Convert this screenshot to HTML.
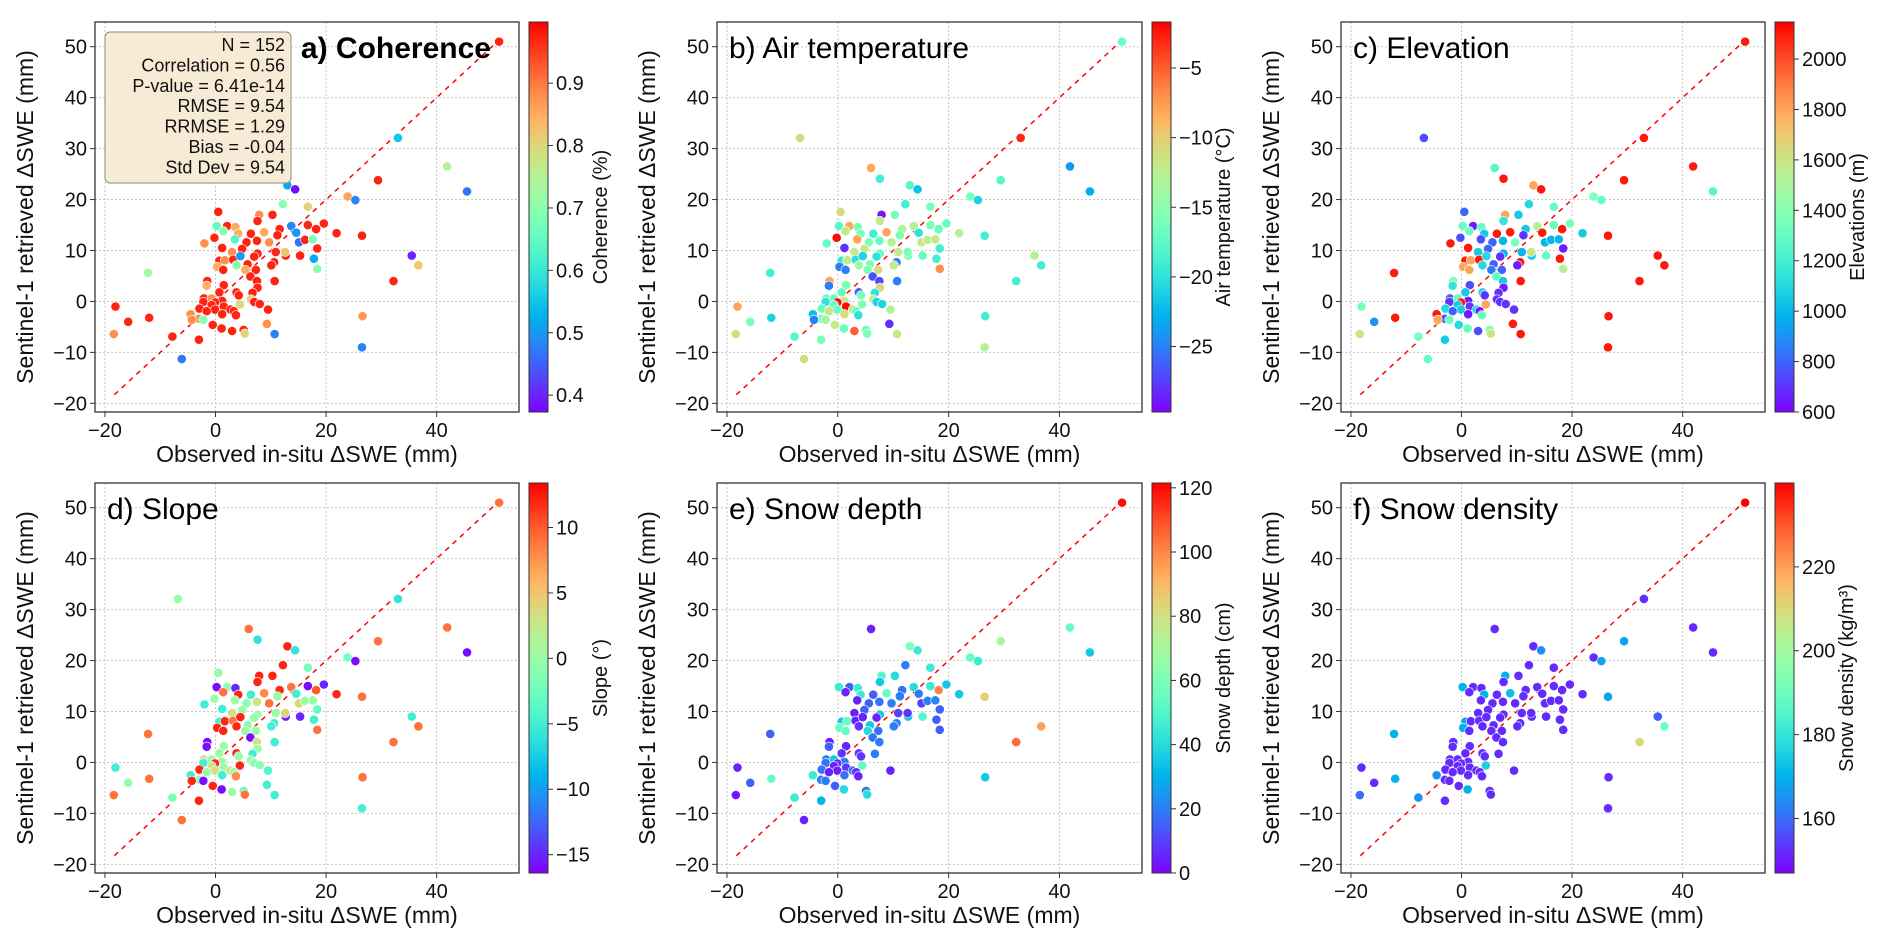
<!DOCTYPE html>
<html><head><meta charset="utf-8">
<style>
html,body{margin:0;padding:0;background:#fff;}
svg{display:block;font-family:"Liberation Sans","Noto Sans CJK SC",sans-serif;}
</style></head>
<body>
<svg id="fig" width="1892" height="946" viewBox="0 0 1892 946" xmlns="http://www.w3.org/2000/svg"></svg>
<script>
const xObs=[51.3,-6.8,33.0,6.0,41.9,7.6,29.4,13.0,14.4,45.5,23.9,25.3,12.2,16.7,0.5,7.9,10.3,7.6,0.2,2.1,3.6,13.7,16.7,19.6,1.4,4.1,6.4,8.8,11.6,14.6,18.2,21.9,-0.2,3.5,5.6,7.5,9.7,11.2,15.1,16.2,17.6,26.5,-2.0,1.2,3.0,4.8,7.6,10.9,12.7,15.3,18.4,12.6,0.7,1.7,3.2,4.5,7.0,10.6,17.8,35.5,36.7,0.3,1.4,3.8,5.8,10.1,5.4,7.3,18.4,6.3,7.5,10.7,32.2,-1.5,1.5,-1.6,7.6,3.8,0.7,6.7,4.2,-2.1,-0.7,6.4,-2.2,1.2,-0.1,7.0,8.0,-0.7,4.4,1.5,-2.9,-0.1,9.5,-1.6,2.7,3.3,1.2,3.7,-4.5,-3.0,-4.3,-2.2,26.6,-12.0,-15.8,-18.1,9.3,-0.5,1.1,5.1,5.3,3.0,10.7,-18.4,-7.8,-3.0,26.5,-6.1,-12.2];
const ySat=[51.0,32.1,32.1,26.2,26.5,24.1,23.8,22.8,22.0,21.6,20.6,19.9,19.1,18.6,17.6,17.0,17.0,15.8,14.8,14.8,14.6,14.8,15.0,15.3,13.8,13.3,13.3,13.6,14.2,13.5,14.2,13.4,12.5,12.2,11.6,11.9,11.6,13.0,11.6,12.1,12.2,12.9,11.4,10.5,9.7,10.3,9.4,9.7,9.0,9.0,10.4,9.7,8.0,8.1,8.2,8.9,8.8,7.7,8.4,9.0,7.1,6.8,6.2,7.1,7.3,7.1,6.2,6.2,6.4,4.9,4.0,4.0,4.0,4.0,3.2,3.1,2.7,1.8,1.8,1.7,1.2,0.6,0.6,0.4,-0.1,0.1,-0.2,-0.1,-0.5,-0.7,-0.6,-1.0,-1.4,-1.6,-1.6,-1.9,-1.6,-1.9,-2.5,-2.7,-2.5,-3.4,-3.6,-3.6,-2.9,-3.2,-4.0,-1.0,-4.4,-4.6,-5.3,-5.6,-6.3,-5.8,-6.4,-6.4,-6.9,-7.5,-9.0,-11.3,5.6];
const coherence=[.97,.72,.55,.47,.75,.72,.97,.52,.38,.47,.86,.48,.7,.8,.97,.88,.97,.97,.65,.97,.85,.48,.97,.97,.7,.85,.97,.85,.97,.5,.97,.97,.97,.63,.97,.97,.88,.97,.46,.97,.68,.97,.88,.97,.88,.97,.97,.97,.97,.97,.97,.82,.97,.88,.97,.5,.97,.97,.52,.4,.82,.85,.97,.7,.97,.97,.85,.97,.7,.97,.97,.97,.97,.97,.97,.85,.97,.97,.97,.97,.97,.97,.88,.8,.97,.97,.97,.97,.97,.97,.8,.97,.97,.97,.97,.97,.97,.97,.97,.97,.88,.88,.88,.7,.87,.97,.97,.97,.88,.97,.97,.97,.8,.97,.48,.88,.97,.97,.48,.47,.72];
const airTemp=[-17,-11,-3,-8,-24,-19,-18,-18,-22,-23,-16,-21,-19,-16,-11,-29,-16,-12,-18,-8,-16,-13,-16,-17,-12,-16,-19,-8,-13,-20,-17,-13,-2,-8,-16,-17,-13,-16,-12,-12,-12,-19,-17,-28,-12,-12,-17,-12,-16,-17,-19,-16,-20,-12,-20,-21,-20,-25,-19,-13,-19,-25,-25,-14,-16,-12,-16,-11,-7,-27,-27,-25,-19,-8,-16,-25,-11,-26,-17,-20,-16,-17,-17,-12,-20,-12,-2,-21,-21,-17,-16,-2,-17,-17,-13,-12,-12,-17,-11,-20,-22,-16,-25,-14,-19,-21,-16,-8,-28,-12,-17,-17,-16,-5,-12,-11,-18,-16,-13,-11,-19];
const elevation=[2100,750,2100,1250,2100,2100,2100,1800,2100,1250,1350,1300,1100,1300,800,1800,1050,1150,1300,650,1300,1550,1300,1350,1300,1050,2100,2100,1050,2100,2100,1050,750,750,800,1000,1350,700,1000,1000,1000,2100,2100,2100,1050,800,1000,1000,1050,1300,650,1600,2100,1800,2100,1100,700,2100,2100,2100,2100,1800,1800,1100,800,650,850,800,1550,1300,1050,2100,2100,1350,750,1150,650,1100,1050,700,700,800,1300,700,700,650,2100,700,700,1050,1800,700,1100,1050,700,800,1100,650,650,1300,2100,750,1800,1300,2100,2100,900,1350,2100,1100,1300,1350,1600,750,2100,1600,1350,1050,2100,1300,2100];
const slope=[9,0,-6,9,9,-6,9,12,-6,-16,-2,-16,12,-2,0,12,12,12,-16,-1,-15,9,-16,-15,9,12,-5,8,12,-5,10,12,0,0,-1,3,9,0,4,0,0,9,-5,-5,3,0,0,0,-15,-15,-3,4,-5,12,9,12,0,-5,-5,-5,9,12,12,12,-1,-5,0,0,9,-16,3,-5,9,-16,0,-16,0,12,0,-5,0,3,0,0,-5,0,12,-1,-1,3,12,0,12,3,-4,0,3,0,-5,8,-5,-1,12,-16,9,9,0,-5,-5,12,-16,-3,9,0,-5,9,-2,12,-5,9,9];
const snowDepth=[120,null,null,5,55,null,70,60,45,35,55,45,20,45,null,50,40,35,45,15,45,40,45,35,5,45,15,55,18,20,100,35,null,5,15,18,20,20,10,20,22,85,null,null,5,15,35,10,35,50,15,8,35,55,5,5,5,20,15,null,95,55,55,8,35,20,40,18,15,18,20,null,105,5,5,15,null,8,8,20,8,20,35,null,18,20,8,null,null,5,55,8,18,5,5,5,18,8,18,5,45,20,null,20,35,55,15,5,null,15,40,20,40,null,null,3,45,30,null,5,15];
const snowDensity=[240,null,152,152,152,null,168,152,165,152,152,168,152,152,null,170,152,152,170,152,152,152,152,152,152,170,152,172,152,152,152,152,null,152,152,152,152,152,152,152,152,168,null,null,152,152,152,152,152,152,152,152,168,152,152,152,152,152,152,158,190,170,152,152,152,152,152,152,152,152,152,null,210,152,152,152,null,152,152,152,152,152,152,null,152,152,152,null,null,152,175,152,152,152,152,152,152,152,152,152,165,152,null,152,152,170,152,152,null,152,170,152,152,null,null,160,165,152,152,null,170];
const xTicks=[-20,0,20,40];
const yTicks=[-20,-10,0,10,20,30,40,50];
const panelTitles=["a) Coherence","b) Air temperature","c) Elevation","d) Slope","e) Snow depth","f) Snow density"];
const cbLabels=["Coherence (%)","Air temperature (°C)","Elevations (m)","Slope (°)","Snow depth (cm)","Snow density (kg/m³)"];
const cbRanges=[[0.373,0.998],[-29.7,-1.7],[600,2147],[-16.4,13.4],[0,121.5],[147,240]];
const cbTicks=[[0.4,0.5,0.6,0.7,0.8,0.9],[-25,-20,-15,-10,-5],[600,800,1000,1200,1400,1600,1800,2000],[-15,-10,-5,0,5,10],[0,20,40,60,80,100,120],[160,180,200,220]];
const statsLines=["N = 152","Correlation = 0.56","P-value = 6.41e-14","RMSE = 9.54","RRMSE = 1.29","Bias = -0.04","Std Dev = 9.54"];
const colorVals=[coherence,airTemp,elevation,slope,snowDepth,snowDensity];

const NS="http://www.w3.org/2000/svg";
const svg=document.getElementById('fig');
function mk(tag,attrs,parent){const e=document.createElementNS(NS,tag);for(const k in attrs)e.setAttribute(k,attrs[k]);(parent||svg).appendChild(e);return e;}
function rainbow(t){t=Math.max(0,Math.min(1,t));const r=Math.min(1,Math.abs(2*t-0.5));const g=Math.sin(Math.PI*t);const b=Math.cos(Math.PI*t/2);return `rgb(${Math.round(r*255)},${Math.round(g*255)},${Math.round(b*255)})`;}
const defs=mk('defs',{});
const lg=mk('linearGradient',{id:'rb',x1:0,y1:1,x2:0,y2:0},defs);
for(let i=0;i<=20;i++){mk('stop',{offset:(i/20),'stop-color':rainbow(i/20)},lg);}

const colsX=[[95,519],[717,1142],[1341,1765]];
const rowsY=[[22,412],[483,873]];
const XMIN=-21.8,XMAX=54.9,YMIN=-21.7,YMAX=54.85;

for(let p=0;p<6;p++){
  const [L,R]=colsX[p%3],[T,B]=rowsY[Math.floor(p/3)];
  const g=mk('g',{});
  
  
  const sx=v=>L+(v-XMIN)/(XMAX-XMIN)*(R-L);
  const sy=v=>B-(v-YMIN)/(YMAX-YMIN)*(B-T);
  for(const t of xTicks){const l=mk('line',{x1:sx(t),x2:sx(t),y1:T,y2:B,stroke:'#c8c8c8','stroke-width':1,'stroke-dasharray':'2,2'},g);}
  for(const t of yTicks){const l=mk('line',{x1:L,x2:R,y1:sy(t),y2:sy(t),stroke:'#c8c8c8','stroke-width':1,'stroke-dasharray':'2,2'},g);}
  const d=mk('line',{x1:sx(-18.3),y1:sy(-18.3),x2:sx(51.3),y2:sy(51.3),stroke:'#ff0000','stroke-width':1.5,'stroke-dasharray':'5,5'},g);
  
  
  const vals=colorVals[p],[cmin,cmax]=cbRanges[p];
  for(let i=0;i<xObs.length;i++){
    if(vals[i]===null||vals[i]===undefined)continue;
    const c=mk('circle',{cx:sx(xObs[i]),cy:sy(ySat[i]),r:4.6,fill:rainbow((vals[i]-cmin)/(cmax-cmin)),stroke:'#fff','stroke-width':0.6},g);
    
    
  }
  const fr=mk('rect',{x:L,y:T,width:R-L,height:B-T,fill:'none',stroke:'#333','stroke-width':1.3},g);
  
  
  for(const t of xTicks){
    mk('line',{x1:sx(t),x2:sx(t),y1:B,y2:B+5,stroke:'#333','stroke-width':1},g);
    const tx=mk('text',{x:sx(t),y:B+25,'font-size':20,'text-anchor':'middle',fill:'#111'},g);tx.textContent=(t<0?'\u2212'+(-t):t);
    
    
  }
  for(const t of yTicks){
    mk('line',{x1:L-5,x2:L,y1:sy(t),y2:sy(t),stroke:'#333','stroke-width':1},g);
    const tx=mk('text',{x:L-8,y:sy(t)+7,'font-size':20,'text-anchor':'end',fill:'#111'},g);tx.textContent=(t<0?'\u2212'+(-t):t);
    
    
  }
  const xl=mk('text',{x:(L+R)/2,y:B+50,'font-size':23,'text-anchor':'middle',fill:'#111'},g);
  xl.textContent='Observed in-situ ΔSWE (mm)';
  
  
  const yl=mk('text',{x:0,y:0,'font-size':23,'text-anchor':'middle',fill:'#111',transform:`translate(${L-62},${(T+B)/2}) rotate(-90)`},g);
  yl.textContent='Sentinel-1 retrieved ΔSWE (mm)';
  
  
  const ti=mk('text',{x:p===0?R-28:L+12,y:T+36,'font-size':30,'font-weight':p===0?'bold':'normal','text-anchor':p===0?'end':'start',fill:'#000'},g);
  ti.textContent=panelTitles[p];
  
  
  const cx=R+10,cw=19;
  const cb=mk('rect',{x:cx,y:T,width:cw,height:B-T,fill:'url(#rb)',stroke:'#333','stroke-width':1},g);
  
  
  const cyv=v=>B-(v-cmin)/(cmax-cmin)*(B-T);
  for(const t of cbTicks[p]){
    mk('line',{x1:cx+cw,x2:cx+cw+5,y1:cyv(t),y2:cyv(t),stroke:'#333','stroke-width':1},g);
    const tx=mk('text',{x:cx+cw+8,y:cyv(t)+7,'font-size':20,fill:'#111'},g);tx.textContent=(t<0?'\u2212'+(-t):t);
    
    
  }
  const maxw=Math.max(...cbTicks[p].map(t=>String(t).length));
  const lx=cx+cw+8+maxw*11+18;
  const cl=mk('text',{x:0,y:0,'font-size':20,'text-anchor':'middle',fill:'#111',transform:`translate(${lx},${(T+B)/2}) rotate(-90)`},g);
  cl.textContent=cbLabels[p];
  
  
  if(p===0){
    const bx=mk('rect',{x:105,y:32,width:186,height:151,rx:5,fill:'#f8ebd6',stroke:'#8a8a8a','stroke-width':1},g);
    
    
    statsLines.forEach((s,i)=>{
      const t=mk('text',{x:285,y:51+i*20.4,'font-size':18,'text-anchor':'end',fill:'#111'},g);
      t.textContent=s;
      
      
    });
  }
}
</script>
</body></html>
